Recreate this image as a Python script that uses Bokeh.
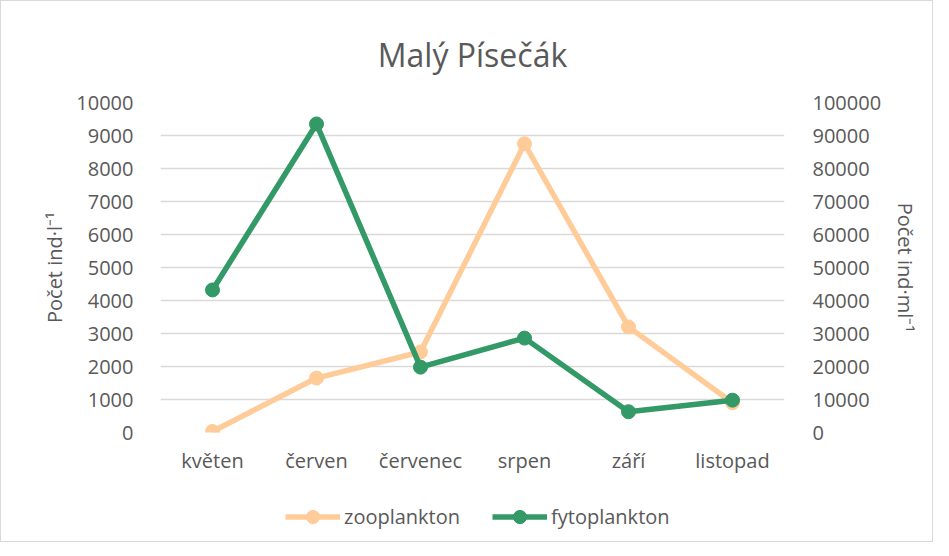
from bokeh.plotting import figure
from bokeh.layouts import column
from bokeh.models import (Range1d, LinearAxis, SingleIntervalTicker, NumeralTickFormatter,
                          Legend, LegendItem, FactorRange)
from bokeh.embed import file_html
from bokeh.resources import INLINE

months = ["květen", "červen", "červenec", "srpen", "září", "listopad"]
zooplankton = [30, 1650, 2440, 8750, 3200, 900]          # ind·l-1 (left axis)
fytoplankton = [43200, 93500, 19800, 28600, 6300, 9800]  # ind·ml-1 (right axis)

left_ticks_interval = 1000
right_ticks_interval = 10000

FONT = "Open Sans"
TXT = "#595959"
ORANGE = "#FFCC99"
GREEN = "#339966"

p = figure(width=931, height=480, x_range=FactorRange(*months, range_padding=0),
           y_range=Range1d(0, 10000), output_backend="svg", toolbar_location=None,
           min_border_left=159, min_border_right=148, min_border_top=101, min_border_bottom=49)
p.outline_line_color = None
p.extra_y_ranges = {"right": Range1d(0, 100000)}

p.title.text = "Malý Písečák"
p.title.align = "center"
p.title.text_font = FONT
p.title.text_font_size = "32px"
p.title.text_font_style = "normal"
p.title.text_color = TXT
p.title.standoff = 54

p.xgrid.grid_line_color = None
p.ygrid.grid_line_color = "#d9d9d9"
p.ygrid.grid_line_width = 1.5

def style_axis(ax):
    ax.axis_line_color = None
    ax.major_tick_line_color = None
    ax.minor_tick_line_color = None
    ax.major_tick_out = 0
    ax.major_tick_in = 0
    ax.major_label_text_font = FONT
    ax.major_label_text_font_size = "20px"
    ax.major_label_text_color = TXT
    ax.axis_label_text_font = FONT
    ax.axis_label_text_font_size = "20px"
    ax.axis_label_text_font_style = "normal"
    ax.axis_label_text_color = TXT

ly = p.yaxis[0]
ly.ticker = SingleIntervalTicker(interval=left_ticks_interval)
ly.formatter = NumeralTickFormatter(format="0")
ly.axis_label = "Počet ind·l⁻¹"
style_axis(ly)
ly.major_label_standoff = 23
ly.axis_label_standoff = 5

ry = LinearAxis(y_range_name="right", ticker=SingleIntervalTicker(interval=right_ticks_interval),
                formatter=NumeralTickFormatter(format="0"), axis_label="Počet ind·ml⁻¹")
style_axis(ry)
ry.major_label_standoff = 24
ry.axis_label_standoff = 8
p.add_layout(ry, "right")

xa = p.xaxis[0]
style_axis(xa)
xa.major_label_standoff = 14

p.line(months, zooplankton, line_color=ORANGE, line_width=5.5, line_join="round")
p.scatter(months, zooplankton, size=14, fill_color=ORANGE, line_color=ORANGE)
p.line(months, fytoplankton, line_color=GREEN, line_width=5.5, line_join="round",
       y_range_name="right")
p.scatter(months, fytoplankton, size=14, fill_color=GREEN, line_color=GREEN,
          y_range_name="right")

# legend strip below the chart (its series lie outside its own visible range)
lg = figure(width=931, height=60, x_range=FactorRange(*months), y_range=Range1d(-2, -1),
            output_backend="svg", toolbar_location=None, x_axis_type=None, y_axis_type=None,
            min_border=0)
lg.outline_line_color = None
lg.grid.visible = False
zl = lg.line(months, zooplankton, line_color=ORANGE, line_width=5.5)
zs = lg.scatter(months, zooplankton, size=14, fill_color=ORANGE, line_color=ORANGE)
fl = lg.line(months, fytoplankton, line_color=GREEN, line_width=5.5)
fs = lg.scatter(months, fytoplankton, size=14, fill_color=GREEN, line_color=GREEN)

legend = Legend(items=[LegendItem(label="zooplankton", renderers=[zl, zs]),
                       LegendItem(label="fytoplankton", renderers=[fl, fs])],
                orientation="horizontal", location=(125, 8),
                glyph_width=55, glyph_height=33, label_standoff=4, spacing=32,
                padding=0, margin=0, border_line_color=None, background_fill_alpha=0,
                label_text_font=FONT, label_text_font_size="20px", label_text_color=TXT)
lg.add_layout(legend, "center")

layout = column(p, lg, spacing=0)
layout.styles = {"border": "1px solid #d9d9d9"}

open("out.html", "w").write(file_html(layout, INLINE))
